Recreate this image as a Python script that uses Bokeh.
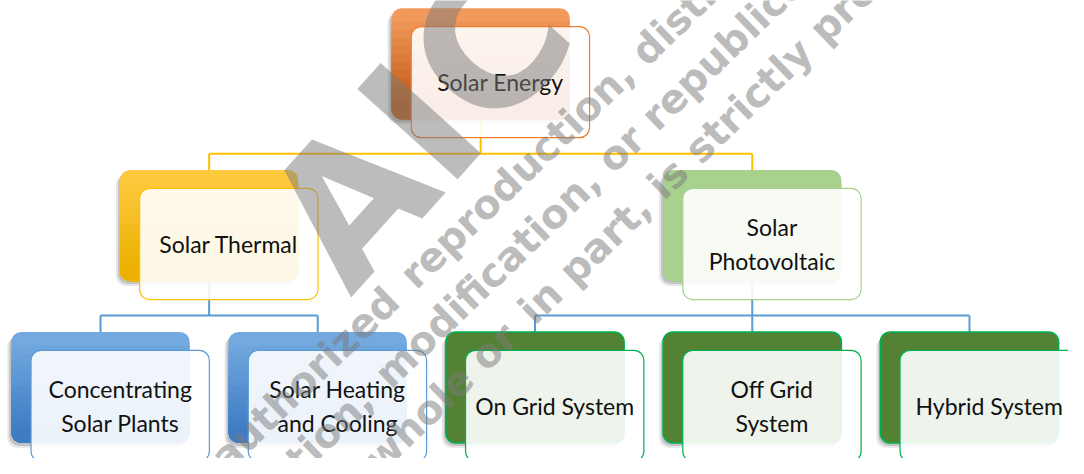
import math
from bokeh.plotting import figure
from bokeh.models import Range1d
from bokeh.core.properties import value
from bokeh.embed import file_html
from bokeh.resources import INLINE

# ---------------- data ----------------
labels = ["Solar Energy", "Solar Thermal", "Solar\nPhotovoltaic",
          "Concentrating\nSolar Plants", "Solar Heating\nand Cooling",
          "On Grid System", "Off Grid\nSystem", "Hybrid System"]
parents = [None, 0, 0, 1, 1, 2, 2, 2]
levels = [0, 1, 1, 2, 2, 2, 2, 2]
back_top = ["#F29A5C", "#FFC93F", "#A9D18E", "#74A9DF", "#74A9DF", "#548235", "#548235", "#548235"]
back_bottom = ["#BF5712", "#EBB000", "#A9D18E", "#3E7CC4", "#3E7CC4", "#548235", "#548235", "#548235"]
back_edge = [None, None, None, None, None, "#00B050", "#00B050", "#00B050"]
front_edge = ["#ED7D31", "#FFC000", "#A9D18E", "#5B9BD5", "#5B9BD5", "#00B050", "#00B050", "#00B050"]
connector_colors = ["#FFC000", "#5B9BD5"]   # by parent level
watermark_big = "AIC"
# each watermark line: (text before the anchor, text after the anchor)
watermark_lines = [("Unauthorized ", "reproduction, distribution,"),
                   ("distribution, ", "modification, or republication,"),
                   ("in whole or ", "in part, is strictly prohibited.")]

# ---------------- layout (reference pixel space 1084 x 474) ----------------
W, H = 181, 115
SLOT = 220.5
X0, Y0 = 11, 8
LEVEL_DY = 167.5
OFFX, OFFY = 20, 19
RADIUS = 10

n = len(labels)
children = {i: [j for j, p in enumerate(parents) if p == i] for i in range(n)}
leaves = [i for i in range(n) if not children[i]]
left = {}
for k, leaf in enumerate(leaves):
    left[leaf] = X0 + k * SLOT
for i in reversed(range(n)):
    if children[i]:
        left[i] = sum(left[c] for c in children[i]) / len(children[i])
top = {i: Y0 + levels[i] * LEVEL_DY for i in range(n)}

def Y(sy):
    return -sy

def hex2rgb(h):
    h = h.lstrip("#")
    return tuple(int(h[k:k + 2], 16) for k in (0, 2, 4))

def mix(a, b, t):
    ra, rb = hex2rgb(a), hex2rgb(b)
    return "#%02x%02x%02x" % tuple(round(ra[k] + (rb[k] - ra[k]) * t) for k in range(3))

p = figure(width=1068, height=458, output_backend="svg", toolbar_location=None,
           x_range=Range1d(0, 1084), y_range=Range1d(-474, 0),
           min_border=0, outline_line_color=None, background_fill_color="white")
p.axis.visible = False
p.grid.visible = False

# connectors
for i in range(n):
    if not children[i]:
        continue
    col = connector_colors[levels[i]]
    pcx = left[i] + W / 2
    ctop = top[children[i][0]]
    midy = ctop - 17
    cxs = [left[c] + W / 2 for c in children[i]]
    xs = [[pcx, pcx], [min(cxs), max(cxs)]] + [[cx, cx] for cx in cxs]
    ys = [[Y(top[i] + H), Y(midy)], [Y(midy), Y(midy)]] + [[Y(midy), Y(ctop)] for _ in cxs]
    p.multi_line(xs, ys, line_color=col, line_width=2)

# shadows
for (dx, dy, a) in [(-4, 5, 0.10), (-2, 3, 0.15)]:
    p.quad(left=[left[i] + dx for i in range(n)], right=[left[i] + W + dx for i in range(n)],
           top=[Y(top[i] + dy) for i in range(n)], bottom=[Y(top[i] + H + dy) for i in range(n)],
           fill_color="black", fill_alpha=a, line_color=None, border_radius=RADIUS)

# back boxes with vertical gradient
NL = 12
for i in range(n):
    L, T = left[i], top[i]
    p.quad(left=[L], right=[L + W], top=[Y(T)], bottom=[Y(T + H)],
           fill_color=back_top[i], line_color=None, border_radius=RADIUS)
    ls, rs, ts, bs, cs = [], [], [], [], []
    for k in range(1, NL):
        t = k / (NL - 1)
        ls.append(L); rs.append(L + W)
        ts.append(Y(T + 14 + (H - 24) * (k - 1) / (NL - 1))); bs.append(Y(T + H))
        cs.append(mix(back_top[i], back_bottom[i], t))
    p.quad(left=ls, right=rs, top=ts, bottom=bs, fill_color=cs, line_color=None,
           border_radius=(0, 0, RADIUS, RADIUS))
    if back_edge[i]:
        p.quad(left=[L], right=[L + W], top=[Y(T)], bottom=[Y(T + H)],
               fill_color=None, line_color=back_edge[i], line_width=1.5, border_radius=RADIUS)

# front boxes
p.quad(left=[left[i] + OFFX for i in range(n)], right=[left[i] + OFFX + W for i in range(n)],
       top=[Y(top[i] + OFFY) for i in range(n)], bottom=[Y(top[i] + OFFY + H) for i in range(n)],
       fill_color="white", fill_alpha=0.9, line_color=front_edge, line_width=1.2,
       border_radius=RADIUS)

# labels
p.text(x=[left[i] + OFFX + W / 2 for i in range(n)],
       y=[Y(top[i] + OFFY + H / 2) for i in range(n)], text=labels,
       text_align="center", text_baseline="middle", text_font=value("Lato"),
       text_font_size="23px", text_color="#111111", text_line_height=1.2)

# watermark
ang = math.radians(44)
d = (math.cos(ang), -math.sin(ang))
nrm = (math.sin(ang), math.cos(ang))
def uv(u, v):
    return (u * d[0] + v * nrm[0], u * d[1] + v * nrm[1])
anchors_u = [95, 5, 156]
lines_v = [495, 551, 605]
wm = dict(angle=ang, text_baseline="middle", text_font=value("DejaVu Sans"),
          text_font_style="bold", text_font_size="40px", text_color="#7a7a7a", text_alpha=0.5)
pre_pts = [uv(u - 6, v) for u, v in zip(anchors_u, lines_v)]
post_pts = [uv(u, v) for u, v in zip(anchors_u, lines_v)]
p.text(x=[q[0] for q in pre_pts], y=[Y(q[1]) for q in pre_pts],
       text=[a for a, b in watermark_lines], text_align="right", **wm)
p.text(x=[q[0] for q in post_pts], y=[Y(q[1]) for q in post_pts],
       text=[b for a, b in watermark_lines], text_align="left", **wm)
p.text(x=[425], y=[Y(130)], text=[watermark_big], angle=math.radians(48), text_align="center",
       text_baseline="middle", text_font=value("DejaVu Sans"), text_font_style="bold",
       text_font_size="185px", text_color="#7a7a7a", text_alpha=0.5)

open("out.html", "w").write(file_html(p, INLINE))
